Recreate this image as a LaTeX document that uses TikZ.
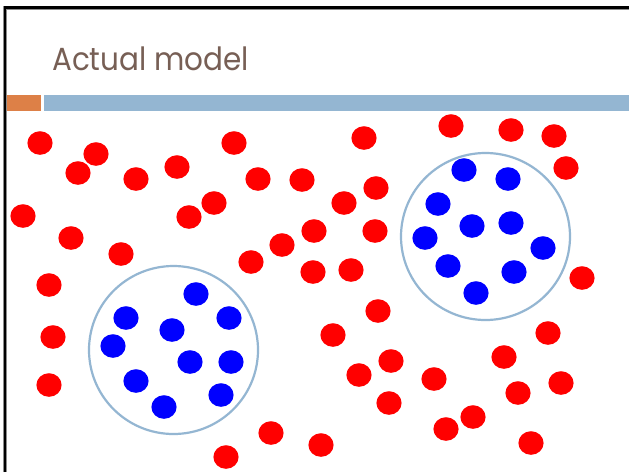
\documentclass[tikz,border=0pt]{standalone}
\usepackage{fontspec}
\newfontfamily\titlefont{Poppins}
\definecolor{titlegray}{HTML}{775F55}
\definecolor{accentorange}{HTML}{DD8047}
\definecolor{accentblue}{HTML}{94B6D2}
\definecolor{dotred}{HTML}{FF0000}
\definecolor{dotblue}{HTML}{0000FF}
\tikzset{
  reddot/.style={fill=dotred},
  bluedot/.style={fill=dotblue},
  clustercircle/.style={draw=accentblue, line width=2.2pt},
  titletext/.style={anchor=base west, text=titlegray, inner sep=0pt, font=\titlefont\fontsize{32}{38}\selectfont},
}
\begin{document}
\begin{tikzpicture}[x=1pt,y=-1pt]
\useasboundingbox (0,0) rectangle (629,472);
\fill[white] (0,0) rectangle (629,472);
% slide frame
\draw[line width=4pt, black!45] (5,472) -- (5,7.5) -- (629,7.5);
\draw[line width=2.4pt, black] (5,472) -- (5,7.5) -- (629,7.5);
% accent bars
\fill[accentorange] (6.5,95) rectangle (41,111);
\fill[accentblue] (44,95) rectangle (629,111);
% title
\node[titletext] (title) at (52,70) {\scalebox{0.92}[1]{Actual model}};
% clusters
\draw[clustercircle] (173.5,350) ellipse[x radius=84.5pt, y radius=84pt];
\draw[clustercircle] (485.5,236.5) ellipse[x radius=84.5pt, y radius=83.5pt];
% red dots
\foreach \px/\py in {40/143, 96/154, 78/173, 136/179, 177/167, 234/143, 258/179, 302/180,
  364/138, 451/126, 511/130, 554/136, 566/168, 189/217, 214/203, 344/203, 376/188,
  23/216, 71/238, 121/254, 49/285, 53/337, 49/385, 251/262, 282/245, 314/231, 375/231,
  313/272, 351/270, 582/278, 378/311, 333/335, 548/333, 504/357, 391/361, 359/375,
  434/379, 561/383, 518/393, 389/403, 473/417, 446/429, 531/443, 321/445, 271/433, 226/457}
  \fill[reddot] (\px,\py) ellipse[x radius=12.6pt, y radius=11.8pt];
% blue dots
\foreach \px/\py in {196/294, 126/318, 229/318, 172/330, 113/346, 190/362, 231/362,
  136/381, 221/395, 164/407,
  464/170, 508/179, 438/204, 472/226, 511/223, 425/238, 543/248, 448/266, 514/272, 476/293}
  \fill[bluedot] (\px,\py) ellipse[x radius=12.6pt, y radius=11.8pt];
\end{tikzpicture}
\end{document}
